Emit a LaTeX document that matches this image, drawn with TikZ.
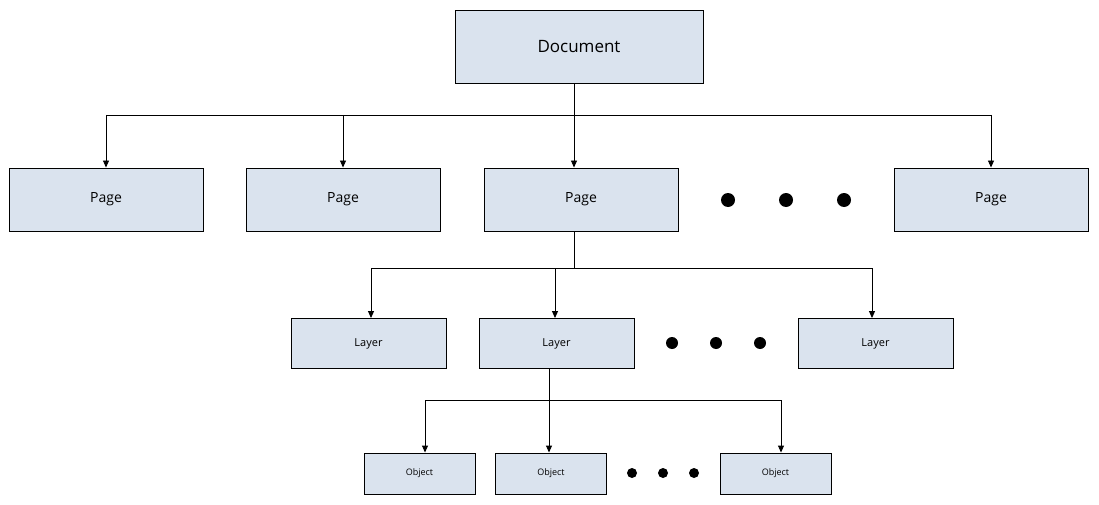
\documentclass[tikz,border=0pt]{standalone}
\usepackage{fontspec}
\setmainfont{Open Sans}
\usetikzlibrary{arrows.meta}
\definecolor{boxfill}{HTML}{DAE3EE}
\begin{document}
\begin{tikzpicture}[x=1pt,y=-1pt,
 box/.style={draw=black,fill=boxfill,line width=0.9pt,inner sep=0pt},
 conn/.style={line width=0.9pt},
 arr/.style={line width=0.9pt,-{Triangle[length=7pt,width=6pt]}},
 dot/.style={fill=black,circle,inner sep=0pt}]
\useasboundingbox (0,0) rectangle (1099,505);
\node[box,minimum width=248pt,minimum height=73pt,font=\fontsize{17}{20}\selectfont] (doc) at (579,46.5) {Document};
\foreach \n/\x in {p1/106,p2/343,p3/581,p5/991}
  \node[box,minimum width=194pt,minimum height=63pt,font=\fontsize{14}{17}\selectfont] (\n) at (\x,199.5) {Page};
\foreach \n/\x in {d1/728,d2/786,d3/844} \node[dot,minimum size=14pt] (\n) at (\x,200) {};
\foreach \n/\x in {l1/368.5,l2/556.5,l3/875.5}
  \node[box,minimum width=155pt,minimum height=50pt,font=\fontsize{11}{13}\selectfont] (\n) at (\x,343.5) {Layer};
\foreach \n/\x in {e1/672,e2/716,e3/760} \node[dot,minimum size=12pt] (\n) at (\x,343) {};
\foreach \n/\x in {o1/419.5,o2/551,o3/775.5}
  \node[box,minimum width=111pt,minimum height=41pt,font=\fontsize{9}{11}\selectfont] (\n) at (\x,473.5) {Object};
\foreach \n/\x in {f1/632,f2/663,f3/694} \node[dot,minimum size=10pt] (\n) at (\x,473) {};
% level 1
\coordinate (j1) at (574,115);
\draw[conn] (doc.south -| j1) -- (j1);
\draw[conn] (p1.north |- j1) -- (p5.north |- j1);
\foreach \n in {p1,p2,p5} \draw[arr] (\n.north |- j1) -- (\n.north);
\draw[arr] (j1) -- (j1 |- p3.north);
% level 2
\coordinate (j2) at (574,268);
\draw[conn] (p3.south -| j2) -- (j2);
\coordinate (k1) at (371,268); \coordinate (k2) at (555,268); \coordinate (k3) at (872,268);
\draw[conn] (k1) -- (k3);
\draw[arr] (k1) -- (k1 |- l1.north);
\draw[arr] (k2) -- (k2 |- l2.north);
\draw[arr] (k3) -- (k3 |- l3.north);
% level 3
\coordinate (j3) at (549,400);
\draw[conn] (l2.south -| j3) -- (j3);
\coordinate (m1) at (425,400); \coordinate (m2) at (549,400); \coordinate (m3) at (781,400);
\draw[conn] (m1) -- (m3);
\draw[arr] (m1) -- (m1 |- o1.north);
\draw[arr] (m2) -- (m2 |- o2.north);
\draw[arr] (m3) -- (m3 |- o3.north);
\end{tikzpicture}
\end{document}
